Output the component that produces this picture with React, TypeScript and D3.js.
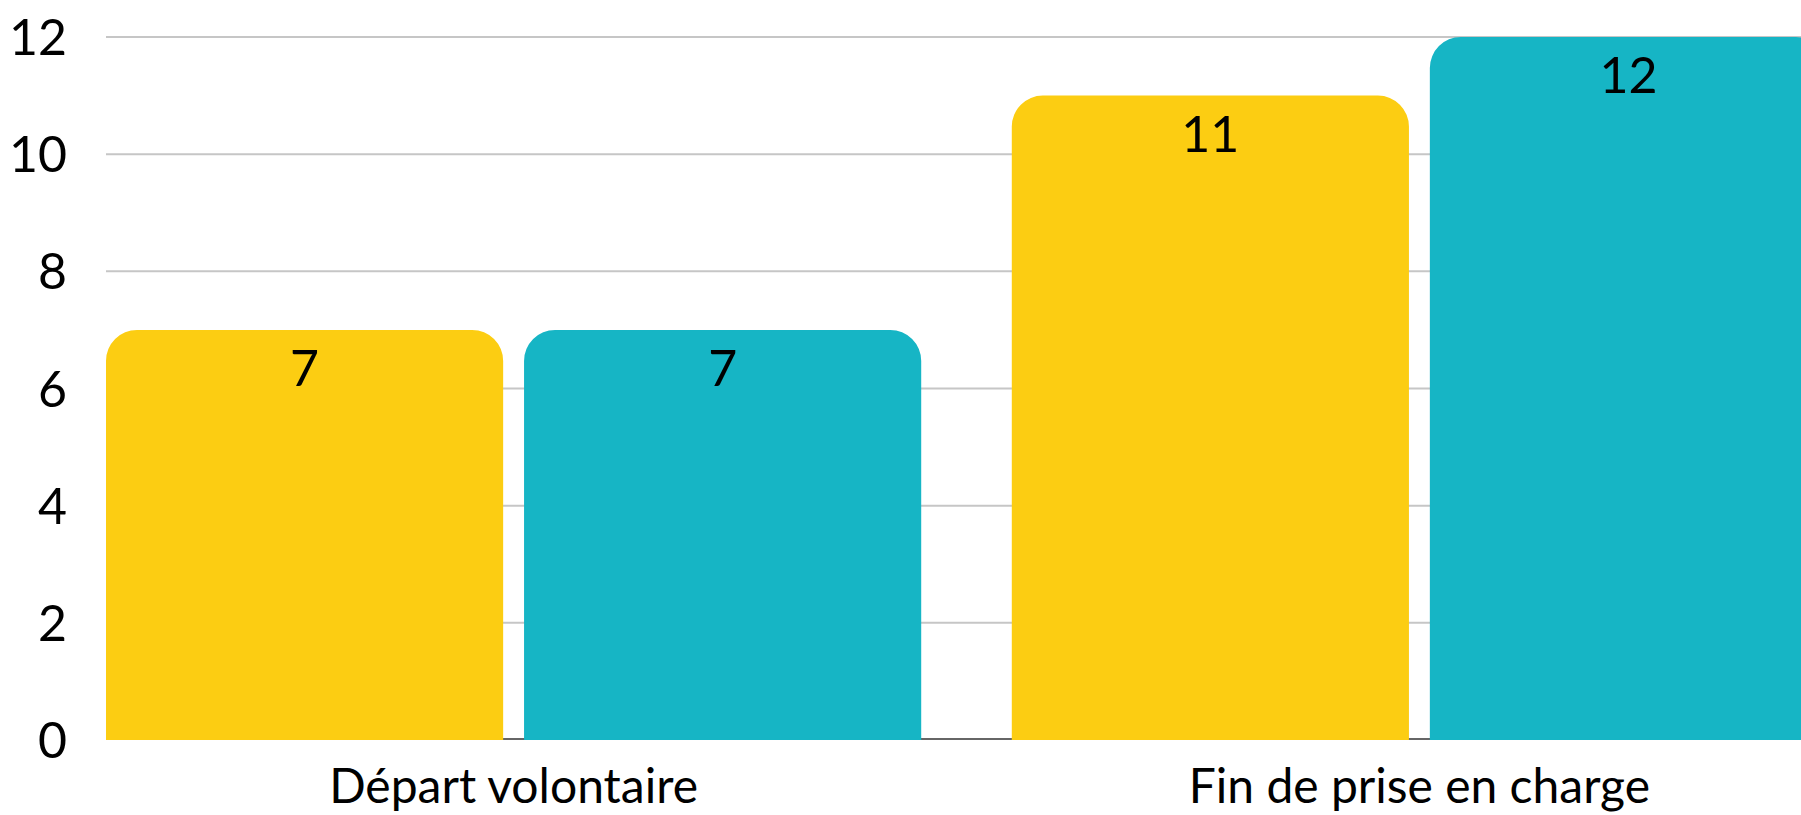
import React from "react";
import * as d3 from "d3";

const categories = ["Départ volontaire", "Fin de prise en charge"];
const seriesKeys = ["a", "b"];
const seriesA = [7, 11];
const seriesB = [7, 12];
const yTicks = [0, 2, 4, 6, 8, 10, 12];
const colors = ["#FCCD12", "#16B5C5"];

const width = 1801;
const height = 815;
const margin = { top: 37, left: 106, bottom: 75 };
const fontFamily = "Lato, 'Open Sans', sans-serif";

const App = () => {
  const x = d3
    .scaleBand()
    .domain(categories)
    .range([margin.left, 1827])
    .paddingInner(0.1)
    .paddingOuter(0);

  const xSub = d3
    .scaleBand()
    .domain(seriesKeys)
    .range([0, x.bandwidth()])
    .paddingInner(0.05)
    .paddingOuter(0);

  const y = d3
    .scaleLinear()
    .domain([0, 12])
    .range([height - margin.bottom, margin.top]);

  const values = [seriesA, seriesB];
  const r = 31;

  const barPath = (x0, w, v) => {
    const top = y(v);
    const bottom = y(0);
    const p = d3.path();
    p.moveTo(x0, bottom);
    p.lineTo(x0, top + r);
    p.arcTo(x0, top, x0 + r, top, r);
    p.lineTo(x0 + w - r, top);
    p.arcTo(x0 + w, top, x0 + w, top + r, r);
    p.lineTo(x0 + w, bottom);
    p.closePath();
    return p.toString();
  };

  return (
    <div style={{ position: "absolute", left: 0, top: 0 }}>
      <svg width={width} height={height} style={{ display: "block", background: "#fff" }}>
        {/* gridlines */}
        {yTicks.slice(1).map((t) => (
          <line
            key={t}
            x1={margin.left}
            x2={width}
            y1={y(t)}
            y2={y(t)}
            stroke="#c6c6c6"
            strokeWidth={2}
          />
        ))}
        <line
          x1={margin.left}
          x2={width}
          y1={y(0) - 1}
          y2={y(0) - 1}
          stroke="#666"
          strokeWidth={2}
        />
        {yTicks.map((t) => (
          <text
            key={t}
            x={67}
            y={y(t)}
            dy="0.36em"
            textAnchor="end"
            fontFamily={fontFamily}
            fontSize={50}
            fill="#000"
          >
            {t}
          </text>
        ))}
        {categories.map((c, i) => (
          <g key={c} transform={`translate(${x(c)},0)`}>
            {seriesKeys.map((k, j) => {
              const v = values[j][i];
              const bx = xSub(k);
              return (
                <g key={k}>
                  <path d={barPath(bx, xSub.bandwidth(), v)} fill={colors[j]} />
                  <text
                    x={bx + xSub.bandwidth() / 2}
                    y={y(v) + 56}
                    textAnchor="middle"
                    fontFamily={fontFamily}
                    fontSize={50}
                    fill="#000"
                  >
                    {v}
                  </text>
                </g>
              );
            })}
            <text
              x={x.bandwidth() / 2}
              y={803}
              textAnchor="middle"
              fontFamily={fontFamily}
              fontSize={48}
              fill="#000"
            >
              {c}
            </text>
          </g>
        ))}
      </svg>
    </div>
  );
};

export default App;
